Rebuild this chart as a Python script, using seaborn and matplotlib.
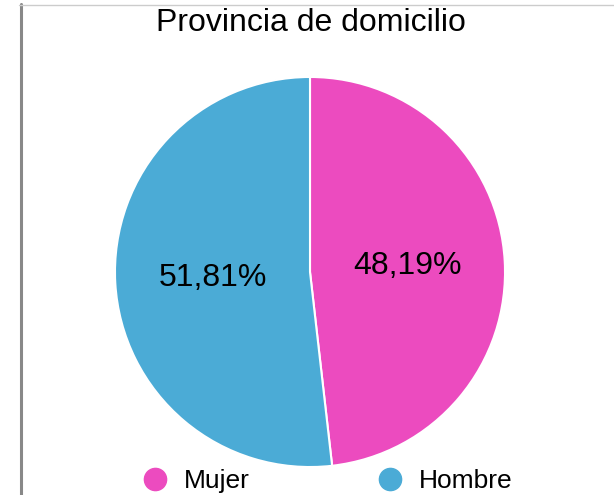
import seaborn as sns
import matplotlib.pyplot as plt
from matplotlib.lines import Line2D

sns.set_theme(style="white")
plt.rcParams['font.family'] = ['Liberation Sans', 'DejaVu Sans']
plt.rcParams['text.color'] = 'black'

categorias = ['Mujer', 'Hombre']
porcentajes = [48.19, 51.81]
colores = ['#EC4BBF', '#4BABD6']
titulo = 'Provincia de domicilio'

fig = plt.figure(figsize=(6.14, 4.95), dpi=100)
ax = fig.add_axes([114 / 614, 27 / 495, 392 / 614, 392 / 495])

ax.pie(porcentajes, colors=colores, startangle=90, counterclock=False,
       radius=1, pctdistance=0.5,
       autopct=lambda p: f'{p:.2f}%'.replace('.', ','),
       wedgeprops=dict(edgecolor='white', linewidth=1.5),
       textprops=dict(fontsize=23, color='black'))
ax.set_xlim(-1.005, 1.005)
ax.set_ylim(-1.005, 1.005)
ax.set_aspect('equal')
ax.axis('off')

fig.text(311 / 614, 1 - 23 / 495, titulo, ha='center', va='center',
         fontsize=23, color='black')

# marco gris a la izquierda y arriba
fig.add_artist(Line2D([20.5 / 614, 20.5 / 614], [0, 1 - 4 / 495], color='#888888', lw=2.2))
fig.add_artist(Line2D([19 / 614, 1], [1 - 5 / 495, 1 - 5 / 495], color='#cccccc', lw=1))

handles = [Line2D([], [], marker='o', linestyle='', markersize=16,
                  markerfacecolor=c, markeredgecolor=c) for c in colores]
fig.legend(handles, categorias, loc='center', bbox_to_anchor=(327 / 614, 14 / 495),
           ncol=2, frameon=False, fontsize=19, handlelength=1.0,
           handletextpad=0.6, columnspacing=4.8, borderpad=0, borderaxespad=0,
           labelcolor='black')

fig.savefig('out.png', dpi=100)
